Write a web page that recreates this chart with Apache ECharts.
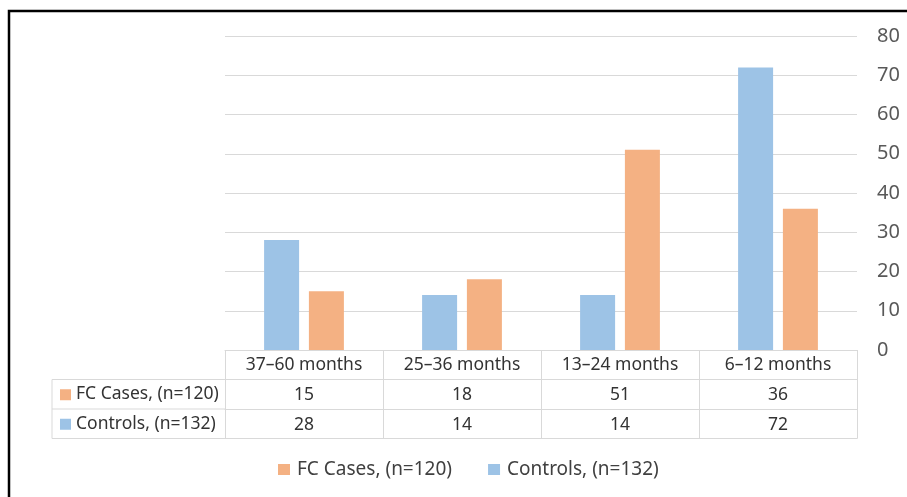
<!DOCTYPE html>
<html>
<head>
<meta charset="utf-8">
<script src="https://cdn.jsdelivr.net/npm/echarts@6/dist/echarts.min.js"></script>
<style>
  html, body { margin: 0; padding: 0; background: #fff; }
  #main { width: 907px; height: 497px; }
</style>
</head>
<body>
<div id="main"></div>
<script>
// data
var categories = ['37–60 months', '25–36 months', '13–24 months', '6–12 months'];
var fcCases = [15, 18, 51, 36];
var controls = [28, 14, 14, 72];
var fcName = 'FC Cases, (n=120)';
var ctrlName = 'Controls, (n=132)';

var BLUE = '#9DC3E6';
var ORANGE = '#F4B183';
var LINE = '#d9d9d9';
var TEXT = '#333333';
var FONT = 'Noto Sans';

var chart = echarts.init(document.getElementById('main'));

// grid geometry (table rows hang under the plot)
var gLeft = 225, gRight = 50, gTop = 36, gBottom = 147;
var rowH = 29.5;
var axisY = 497 - gBottom;

function rowAxis(idx, values) {
    return {
        type: 'category',
        data: categories,
        position: 'bottom',
        offset: rowH * idx,
        axisLine: { show: true, lineStyle: { color: LINE, width: 1 } },
        axisTick: { show: false },
        axisLabel: {
            show: !!values,
            margin: 7,
            color: TEXT,
            fontFamily: FONT,
            fontSize: 17.5,
            formatter: function (v, i) { return values ? String(values[i]) : ''; }
        }
    };
}

var option = {
    backgroundColor: '#fff',
    animation: false,
    grid: { left: gLeft, right: gRight, top: gTop, bottom: gBottom },
    legend: {
        data: [fcName, ctrlName],
        left: 273,
        top: 455,
        icon: 'rect',
        itemWidth: 12,
        itemHeight: 11,
        itemGap: 36,
        textStyle: { color: '#404040', fontFamily: FONT, fontSize: 19, padding: [0, 0, 0, 2] }
    },
    xAxis: [
        {
            type: 'category',
            data: categories,
            position: 'bottom',
            axisLine: { show: true, lineStyle: { color: LINE } },
            axisTick: { show: true, length: rowH * 3, lineStyle: { color: LINE } },
            axisLabel: { margin: 6, color: TEXT, fontFamily: FONT, fontSize: 17.5 }
        },
        rowAxis(1, fcCases),
        rowAxis(2, controls),
        rowAxis(3, null)
    ],
    yAxis: {
        type: 'value',
        position: 'right',
        min: 0,
        max: 80,
        interval: 10,
        axisLine: { show: false },
        axisTick: { show: false },
        splitLine: { lineStyle: { color: LINE } },
        axisLabel: { margin: 20, color: '#595959', fontFamily: FONT, fontSize: 20 }
    },
    series: [
        {
            name: ctrlName,
            type: 'bar',
            data: controls,
            itemStyle: { color: BLUE },
            barWidth: 35,
            barGap: '28%'
        },
        {
            name: fcName,
            type: 'bar',
            data: fcCases,
            itemStyle: { color: ORANGE },
            barWidth: 35
        }
    ],
    graphic: [
        // outer frame
        { type: 'rect', shape: { x: 9, y: 11, width: 920, height: 520 },
          style: { fill: 'none', stroke: '#000', lineWidth: 2.5 } },
        // left column of the data table
        { type: 'polyline', shape: { points: [[gLeft, axisY + rowH], [52, axisY + rowH], [52, axisY + rowH * 3], [gLeft, axisY + rowH * 3]] },
          style: { fill: 'none', stroke: LINE, lineWidth: 1 } },
        { type: 'line', shape: { x1: 52, y1: axisY + rowH * 2, x2: gLeft, y2: axisY + rowH * 2 },
          style: { stroke: LINE, lineWidth: 1 } },
        { type: 'rect', shape: { x: 60, y: axisY + rowH * 1.5 - 5, width: 11, height: 11 }, style: { fill: ORANGE } },
        { type: 'text', x: 76, y: axisY + rowH * 1.5, style: { text: fcName, fill: TEXT, font: '17.5px "' + FONT + '"', verticalAlign: 'middle' } },
        { type: 'rect', shape: { x: 60, y: axisY + rowH * 2.5 - 5, width: 11, height: 11 }, style: { fill: BLUE } },
        { type: 'text', x: 76, y: axisY + rowH * 2.5, style: { text: ctrlName, fill: TEXT, font: '17.5px "' + FONT + '"', verticalAlign: 'middle' } }
    ]
};

chart.setOption(option);
window.addEventListener('resize', function () { chart.resize(); });
</script>
</body>
</html>
